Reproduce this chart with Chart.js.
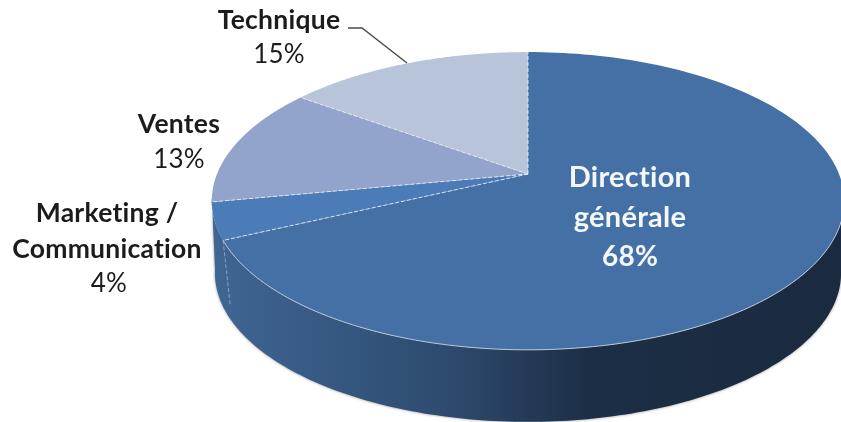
<!DOCTYPE html>
<html>
<head>
<meta charset="utf-8">
<script src="https://cdn.jsdelivr.net/npm/chart.js@4"></script>
<style>
    html, body { margin: 0; padding: 0; background: #fff; overflow: hidden; }
    canvas { display: block; filter: blur(0.45px); }
</style>
</head>
<body>
<canvas id="pieChart" width="841" height="422"></canvas>
<script>
const categories = ['Direction générale', 'Marketing / Communication', 'Ventes', 'Technique'];
const shares = [68, 4, 13, 15];
const sliceColors = ['#4570a5', '#4c7cb8', '#92a4cb', '#b8c4da'];

// Label layout: one entry per category, lines are [text, x, y]
const labelLayout = [
    { color: '#f4f7fb', size: 29, pctSize: 28, lines: [['Direction', 630, 178], ['générale', 630, 218]], pct: [630, 257], pctBold: true },
    { color: '#1c1c1c', size: 26.5, pctSize: 26, lines: [['Marketing /', 107, 213], ['Communication', 107, 249]], pct: [109, 284] },
    { color: '#1c1c1c', size: 26.5, pctSize: 26, lines: [['Ventes', 179, 124]], pct: [179, 160] },
    { color: '#1c1c1c', size: 26.5, pctSize: 26, lines: [['Technique', 279, 20]], pct: [279, 55] }
];

// 3D look of the disc
const PERSPECTIVE = 0.181;
const TILT = 144 / 311;
const DEPTH = 72;
const BOTTOM_SCALE = 0.99;

function project(arc, angle) {
    const dx = Math.cos(angle);
    const dy = Math.sin(angle);
    const s = 1 / (1 - PERSPECTIVE * dy);
    return {
        x: arc.x + arc.outerRadius * dx * s,
        y: arc.y + arc.outerRadius * TILT * dy * s
    };
}

function traceRim(ctx, arc, from, to, shift, scale = 1) {
    const steps = 160;
    for (let i = 0; i <= steps; i++) {
        const p = project(arc, from + (to - from) * i / steps);
        ctx.lineTo(arc.x + (p.x - arc.x) * scale, p.y + shift);
    }
}

function drawWall(ctx, arc) {
    // from the right widest point round the front to the left widest point
    const from = 0.16;
    const to = Math.PI - 0.16;
    const grad = ctx.createLinearGradient(212, 0, 841, 0);
    grad.addColorStop(0, '#3f6694');
    grad.addColorStop(0.38, '#2d4a6e');
    grad.addColorStop(0.6, '#1c2e45');
    grad.addColorStop(1, '#1a2b40');

    ctx.save();
    ctx.shadowColor = 'rgba(90,90,90,0.7)';
    ctx.shadowBlur = 3;
    ctx.beginPath();
    traceRim(ctx, arc, from, to, DEPTH, BOTTOM_SCALE);
    traceRim(ctx, arc, to, from, 0);
    ctx.closePath();
    ctx.fillStyle = grad;
    ctx.fill();
    ctx.restore();
}

const pie3d = {
    id: 'pie3d',
    beforeDatasetDraw(chart) {
        const ctx = chart.ctx;
        const arcs = chart.getDatasetMeta(0).data;
        drawWall(ctx, arcs[0]);

        // top faces
        arcs.forEach((arc, i) => {
            ctx.beginPath();
            ctx.moveTo(arc.x, arc.y);
            traceRim(ctx, arc, arc.startAngle, arc.endAngle, 0);
            ctx.closePath();
            ctx.fillStyle = sliceColors[i];
            ctx.fill();
        });

        // light rim between the top face and the wall
        const first = arcs[0];
        ctx.beginPath();
        traceRim(ctx, first, 0.16, first.endAngle, 0);
        ctx.strokeStyle = '#b9c6d6';
        ctx.lineWidth = 1;
        ctx.stroke();

        // dashed separators on top, and the wall seam on the left
        ctx.save();
        ctx.strokeStyle = 'rgba(235,240,247,0.85)';
        ctx.lineWidth = 1;
        ctx.setLineDash([4, 2]);
        arcs.forEach(arc => {
            const p = project(arc, arc.startAngle);
            ctx.beginPath();
            ctx.moveTo(arc.x, arc.y);
            ctx.lineTo(p.x, p.y);
            ctx.stroke();
        });
        const seam = project(first, first.endAngle);
        ctx.strokeStyle = 'rgba(200,212,226,0.55)';
        ctx.beginPath();
        ctx.moveTo(seam.x, seam.y);
        ctx.lineTo(seam.x + 7, seam.y + DEPTH - 8);
        ctx.stroke();
        ctx.restore();

        return false;
    },
    afterDraw(chart) {
        const ctx = chart.ctx;
        // leader line of the last label
        ctx.beginPath();
        ctx.moveTo(348, 28);
        ctx.lineTo(362, 28);
        ctx.lineTo(407, 63);
        ctx.strokeStyle = '#4a4a4a';
        ctx.lineWidth = 1.4;
        ctx.stroke();

        ctx.textAlign = 'center';
        ctx.textBaseline = 'middle';
        // small spacing also turns off the Lato "ti" ligature
        ctx.letterSpacing = '0.25px';
        labelLayout.forEach((label, i) => {
            ctx.fillStyle = label.color;
            ctx.font = 'bold ' + label.size + 'px Lato';
            label.lines.forEach(line => ctx.fillText(line[0], line[1], line[2]));
            ctx.font = (label.pctBold ? 'bold ' : '') + label.pctSize + 'px Lato';
            ctx.fillText(shares[i] + '%', label.pct[0], label.pct[1]);
        });
    }
};

new Chart(document.getElementById('pieChart'), {
    type: 'pie',
    data: {
        labels: categories,
        datasets: [{
            data: shares,
            backgroundColor: sliceColors,
            radius: 311,
            borderWidth: 0
        }]
    },
    options: {
        responsive: false,
        animation: false,
        layout: { padding: { left: 215, bottom: 74 } },
        plugins: {
            legend: { display: false },
            tooltip: { enabled: false }
        }
    },
    plugins: [pie3d]
});
</script>
</body>
</html>
